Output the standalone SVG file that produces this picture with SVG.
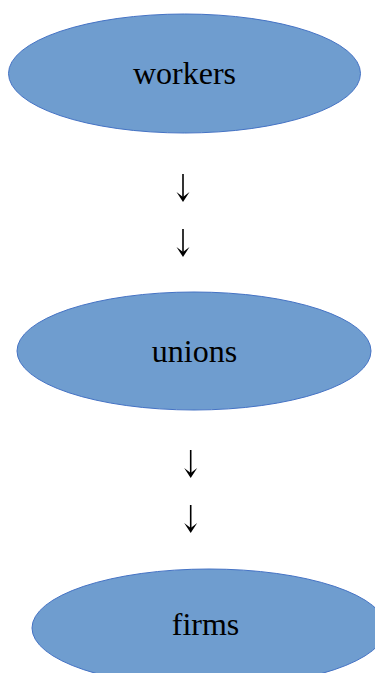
<svg xmlns="http://www.w3.org/2000/svg" width="375" height="673" viewBox="0 0 375 673">
<style>
.node{fill:#6f9dcf;stroke:#4472c4;stroke-width:1}
.lbl{font-family:"Liberation Serif","Times New Roman",serif;font-size:32px;fill:#000;text-anchor:middle}
.shaft{stroke:#000;stroke-width:1.6;fill:none}
.head{fill:#000;stroke:none}
</style>
<defs>
<g id="arrow">
<line class="shaft" x1="0" y1="0" x2="0" y2="26"/>
<path class="head" d="M-6.5,18 L0,28 L6.5,18 L0,23 Z"/>
</g>
</defs>
<rect width="375" height="673" fill="#fff"/>
<g id="connectors">
<use href="#arrow" x="183" y="174"/>
<use href="#arrow" x="183" y="229"/>
<use href="#arrow" x="190.7" y="450"/>
<use href="#arrow" x="190.7" y="505"/>
</g>
<g id="workers">
<ellipse class="node" cx="184.5" cy="73.5" rx="176" ry="59.5"/>
<text class="lbl" x="184.5" y="84">workers</text>
</g>
<g id="unions">
<ellipse class="node" cx="194" cy="351" rx="177" ry="59"/>
<text class="lbl" x="194.5" y="362">unions</text>
</g>
<g id="firms">
<ellipse class="node" cx="209" cy="628" rx="177" ry="59"/>
<text class="lbl" x="205.5" y="635">firms</text>
</g>
</svg>
